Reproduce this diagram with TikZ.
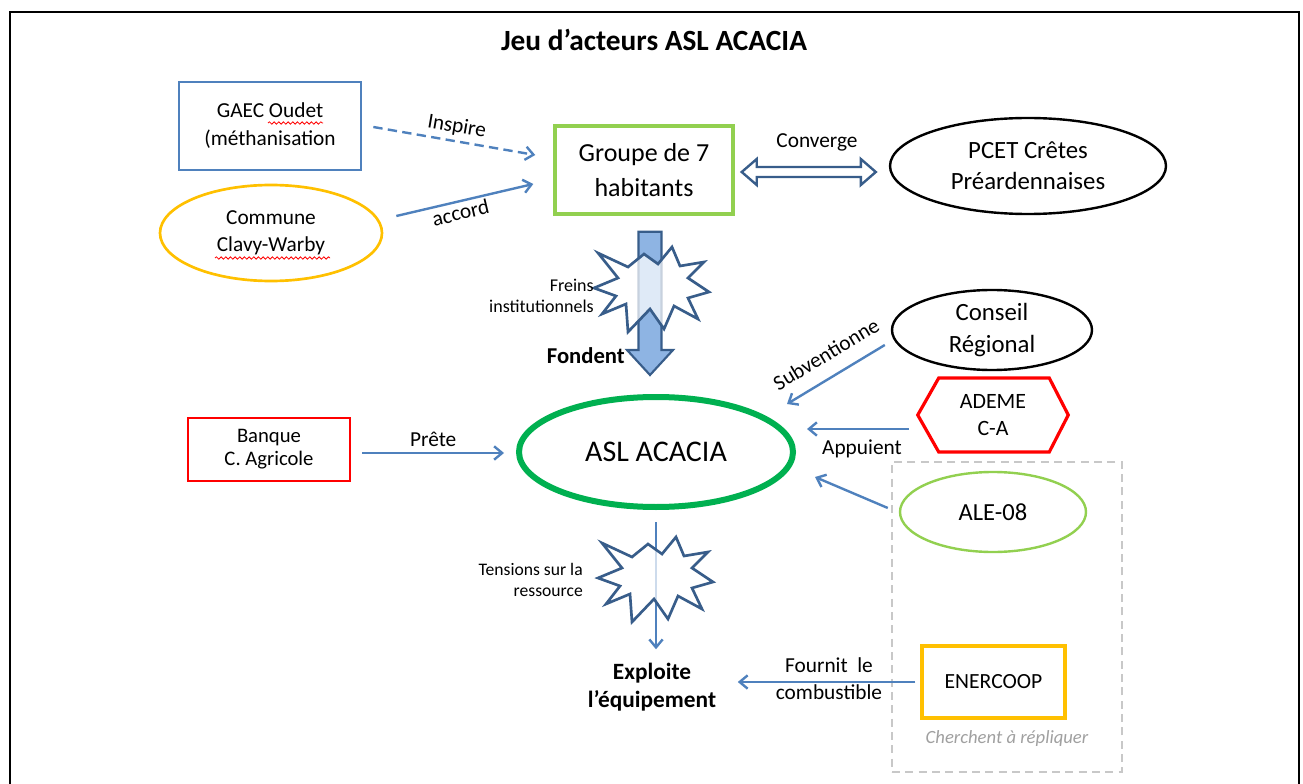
\documentclass[tikz,border=0pt]{standalone}
\usepackage{fontspec}
\setmainfont{Carlito}
\usetikzlibrary{shapes.geometric,arrows.meta,calc,decorations.pathmorphing}
\definecolor{arrblue}{RGB}{79,129,189}
\definecolor{darkblue}{RGB}{56,93,138}
\definecolor{lgreen}{RGB}{146,208,80}
\definecolor{dgreen}{RGB}{0,176,80}
\definecolor{gold}{RGB}{255,192,0}
\definecolor{bigfill}{RGB}{142,180,227}
\definecolor{dashgray}{RGB}{200,200,200}
\definecolor{textgray}{RGB}{160,160,160}
\newcommand{\fsz}[2]{\fontsize{#1}{#2}\selectfont}
\begin{document}
\begin{tikzpicture}[x=0.75pt,y=-0.75pt,
  conn/.style={draw=arrblue,line width=1.8pt,-{Straight Barb[length=6pt,width=10pt]}},
  lbl/.style={font=\fsz{16}{20},inner sep=1pt},
  rectnode/.style={draw,rectangle,align=center,inner sep=0pt},
  ellnode/.style={draw,ellipse,align=center,inner sep=0pt},
  burststyle/.style={draw=darkblue,line width=2pt,fill=white,fill opacity=0.72,line join=miter},
  squiggle/.style={draw=red,line width=0.6pt,decorate,decoration={snake,amplitude=0.9pt,segment length=3.5pt}},
  burst/.pic={\path[burststyle] (-54,-31) -- (-24,-17) -- (-8,-30) -- (6,-20) -- (20,-37) -- (28,-18) -- (52,-22) -- (36,-6) -- (57,8) -- (36,14) -- (46,35) -- (22,22) -- (12,45) -- (-2,25) -- (-24,48) -- (-26,20) -- (-50,30) -- (-36,12) -- (-58,4) -- (-34,-6) -- cycle;}
]
\useasboundingbox (0,0) rectangle (1303,784);
% frame
\draw[line width=1.5pt] (10,784) -- (10,12) -- (1299,12) -- (1299,784);
% title
\node[font=\bfseries\fsz{22}{26}] (title) at (654,40) {Jeu d’acteurs ASL ACACIA};

% nodes
\node[rectnode,draw=arrblue,line width=2pt,minimum width=136.5pt,minimum height=66pt,font=\fsz{16}{21}] (gaec) at (270,126) {GAEC Oudet\\(méthanisation};
\node[ellnode,draw=gold,line width=2pt,minimum width=166.5pt,minimum height=72pt,font=\fsz{16}{20}] (commune) at (271,233) {Commune\\Clavy-Warby};
\node[rectnode,draw=lgreen,line width=2.6pt,minimum width=133.5pt,minimum height=66pt,font=\fsz{19.5}{26}] (groupe) at (644,170) {Groupe de 7\\habitants};
\node[ellnode,draw=black,line width=1.8pt,minimum width=207pt,minimum height=72pt,font=\fsz{18.6}{23.3}] (pcet) at (1028,166) {PCET Crêtes\\Préardennaises};
\node[ellnode,draw=black,line width=1.8pt,minimum width=150pt,minimum height=60pt,font=\fsz{18.6}{24}] (conseil) at (992,330) {Conseil\\Régional};
\node[ellnode,draw=dgreen,line width=4.5pt,minimum width=205.5pt,minimum height=82.5pt,font=\fsz{22.5}{27}] (asl) at (656,452) {ASL ACACIA};
\node[rectnode,draw=red,line width=2pt,minimum width=121.5pt,minimum height=47.25pt,font=\fsz{15.5}{17.25}] (banque) at (269,449.5) {Banque\\C. Agricole};
\node[align=center,inner sep=0pt,minimum width=112.5pt,minimum height=55.5pt,font=\fsz{16.4}{20.25}] (ademe) at (993,415) {ADEME\\C-A};
\draw[red,line width=2.4pt,line join=miter] (ademe.west) -- ($(ademe.west)+(21,-37)$) -- ($(ademe.east)+(-19,-37)$) -- (ademe.east) -- ($(ademe.east)+(-19,37)$) -- ($(ademe.west)+(21,37)$) -- cycle;
\node[draw=dashgray,line width=1.8pt,dash pattern=on 6pt off 4pt,minimum width=172.5pt,minimum height=232.5pt,inner sep=0pt] (cluster) at (1007,617) {};
\node[ellnode,draw=lgreen,line width=1.8pt,minimum width=139.5pt,minimum height=60pt,font=\fsz{18.4}{22}] (ale) at (993,512) {ALE-08};
\node[rectnode,draw=gold,line width=2.4pt,minimum width=107.25pt,minimum height=54pt,font=\fsz{16.2}{20}] (enercoop) at (993.5,682) {ENERCOOP};
\node[font=\itshape\fsz{14}{17},text=textgray] (cherchent) at (1007,739) {Cherchent à répliquer};
\node[font=\bfseries\fsz{17.5}{21},align=center] (expl) at (652,687) {Exploite\\l’équipement};

% spell-check squiggles
\draw[squiggle] ($(gaec.center)+(-2,-3)$) -- ++(55,0);
\draw[squiggle] ($(commune.center)+(-56,25)$) -- ++(115,0);

% connectors
\draw[conn,dash pattern=on 7pt off 4pt] ($(gaec.east)+(11,1)$) -- node[lbl,sloped,above=2pt] {Inspire} ($(groupe.west)+(-18,-15)$);
\draw[conn] ($(commune.east)+(13,-17)$) -- node[lbl,sloped,below=1pt,pos=0.45] {accord} ($(groupe.west)+(-20,14)$);

% converge double arrow
\coordinate (cvA) at ($(groupe.east)+(7,2)$);
\coordinate (cvB) at ($(pcet.west)+(-13,6)$);
\draw[draw=darkblue,line width=1.8pt,fill=white,line join=miter] (cvA) -- ++(15,-13) -- ++(0,8) -- ($(cvB)+(-15,-5)$) -- ++(0,-8) -- (cvB) -- ++(-15,13) -- ++(0,-8) -- ($(cvA)+(15,5)$) -- ++(0,8) -- cycle;
\node[lbl] (converge) at (817,142) {Converge};

% fondent big arrow
\coordinate (fA) at ($(groupe.south)+(6,16)$);
\coordinate (fB) at ($(asl.north)+(-6,-19)$);
\draw[draw=darkblue,line width=1.6pt,fill=bigfill,line join=miter] ($(fA)+(-11.5,0)$) -- ($(fA)+(11.5,0)$) -- ($(fB)+(11.5,-25)$) -- ($(fB)+(23,-25)$) -- (fB) -- ($(fB)+(-23,-25)$) -- ($(fB)+(-11.5,-25)$) -- cycle;
\pic at (652,284) {burst};
\node[font=\fsz{13.5}{16},align=right,anchor=east,inner sep=0pt] (freins) at (594,296) {Freins\\institutionnels};
\node[font=\bfseries\fsz{17}{20},anchor=east,inner sep=0pt] (fondent) at (625,356) {Fondent};

% other arrows to ASL
\draw[conn] ($(banque.east)+(11,3.5)$) -- node[lbl,above=3pt] {Prête} ($(asl.west)+(-12,1)$);
\draw[conn] ($(conseil.west)+(-6,15)$) -- ($(asl.center)+(131,-48)$);
\node[lbl,rotate=31] (subv) at (826,354) {Subventionne};
\draw[conn] ($(ademe.west)+(-9,14)$) -- ($(asl.east)+(11,-23)$);
\node[lbl] (appuient) at (862,449) {Appuient};
\draw[conn] ($(ale.west)+(-11,-4)$) -- ($(asl.east)+(19,25)$);

% tensions
\draw[conn] ($(asl.south)+(0,12)$) -- ($(asl.south |- expl.north)+(0,-9)$);
\pic at (656,574) {burst};
\node[font=\fsz{13.2}{15.5},align=right,anchor=east,inner sep=0pt] (tensions) at (583,580) {Tensions sur la\\ressource};

% fournit
\draw[conn] ($(enercoop.west)+(-5,0)$) -- ($(expl.east |- enercoop.west)+(17,0)$);
\node[lbl,align=center,font=\fsz{16}{20.5}] (fournit) at (829,679) {Fournit~~le\\combustible};
\end{tikzpicture}
\end{document}
